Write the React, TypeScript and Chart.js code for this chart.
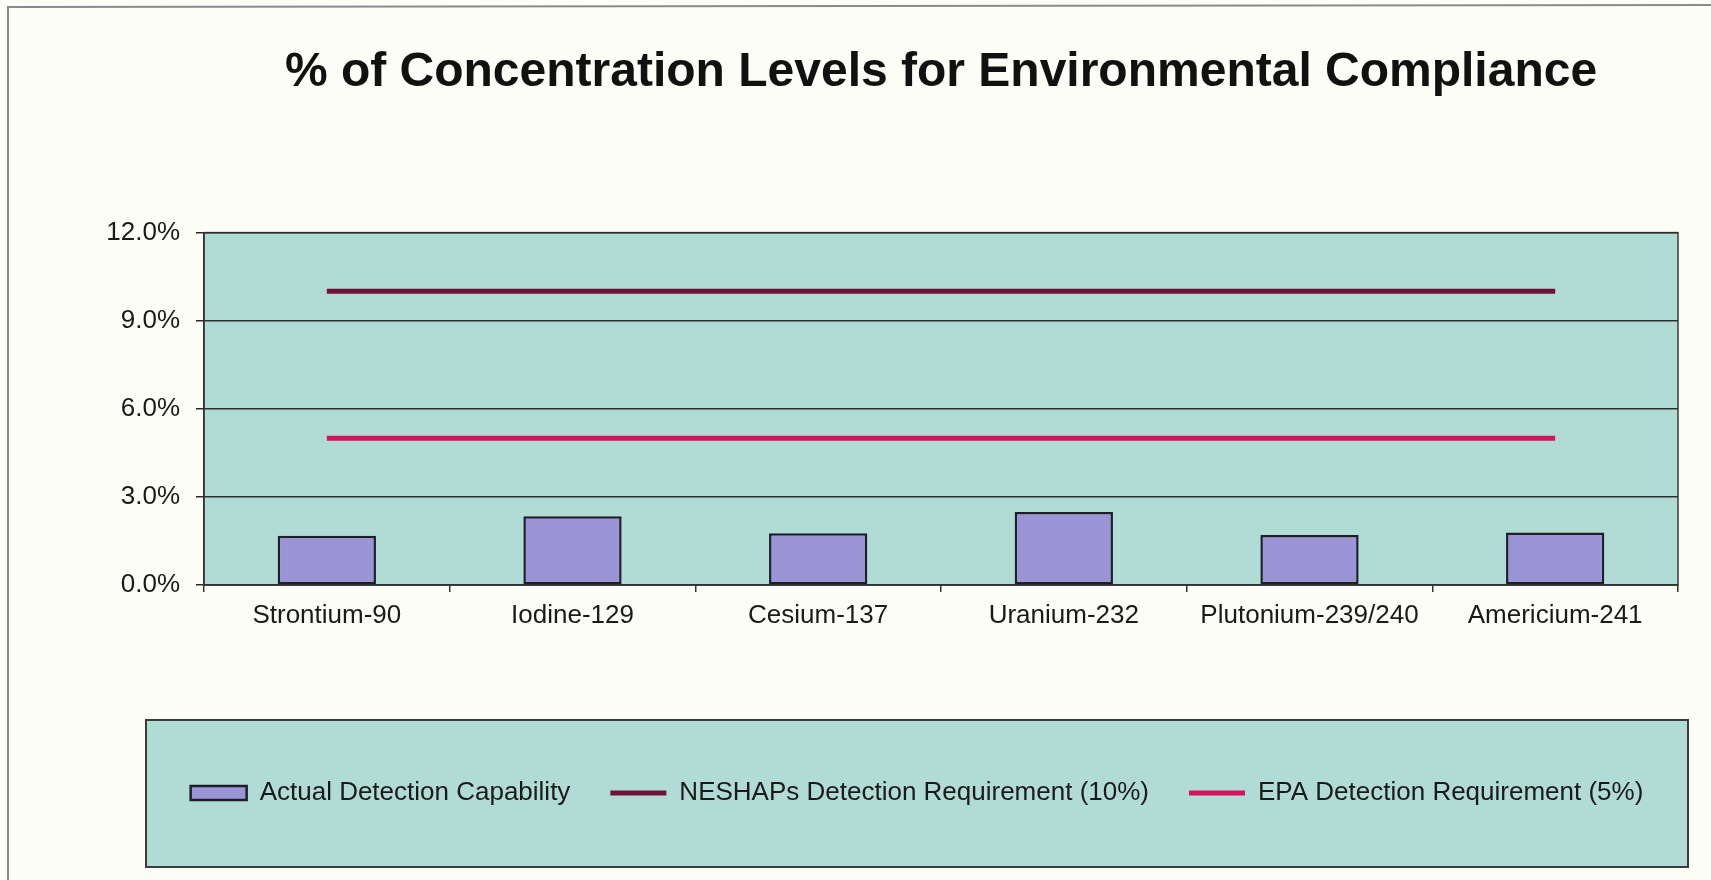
import React, { useEffect, useRef } from 'react';
import { Chart, registerables } from 'chart.js';

Chart.register(...registerables);

const categories = ['Strontium-90', 'Iodine-129', 'Cesium-137', 'Uranium-232', 'Plutonium-239/240', 'Americium-241'];
const actualDetection = [1.68, 2.34, 1.76, 2.49, 1.70, 1.79];
const neshapsRequirement = [10, 10, 10, 10, 10, 10];
const epaRequirement = [5, 5, 5, 5, 5, 5];
const seriesNames = ['Actual Detection Capability', 'NESHAPs Detection Requirement (10%)', 'EPA Detection Requirement (5%)'];
const yMax = 12;
const yStep = 3;
const titleText = '% of Concentration Levels for Environmental Compliance';

const FONT = '"Liberation Sans", Arial, sans-serif';
const PLOT_BG = '#b1dcd5';
const PAGE_BG = '#fdfdf7';
const BAR_FILL = '#9b94d6';
const NESHAPS_COLOR = '#701238';
const EPA_COLOR = '#d6145c';

export default function App() {
  const ref = useRef<HTMLCanvasElement>(null);

  useEffect(() => {
    document.body.style.margin = '0';
    const canvas = ref.current;
    if (!canvas) return;

    const framePlugin = {
      id: 'framePlugin',
      afterLayout(chart: any) {
        // widen the legend box so that it spans the framed legend panel
        const lg = chart.legend;
        const ca = chart.chartArea;
        if (lg && ca) {
          lg.left = ca.left - 58;
          lg.right = ca.right + 10;
          lg.width = lg.right - lg.left;
        }
      },
      beforeDraw(chart: any) {
        const { ctx, chartArea, width, height } = chart;
        ctx.save();
        ctx.fillStyle = PAGE_BG;
        ctx.fillRect(0, 0, width, height);
        // outer frame (left/top)
        ctx.strokeStyle = '#8a8a8a';
        ctx.lineWidth = 2;
        ctx.beginPath();
        ctx.moveTo(8, height);
        ctx.lineTo(8, 7);
        ctx.lineTo(width, 5);
        ctx.stroke();
        // plot area
        ctx.fillStyle = PLOT_BG;
        ctx.fillRect(chartArea.left, chartArea.top, chartArea.right - chartArea.left, chartArea.bottom - chartArea.top);
        ctx.strokeStyle = '#3a3a3a';
        ctx.lineWidth = 1.5;
        ctx.strokeRect(chartArea.left, chartArea.top, chartArea.right - chartArea.left, chartArea.bottom - chartArea.top);
        // legend panel
        const lg = chart.legend;
        if (lg && lg.legendHitBoxes && lg.legendHitBoxes.length) {
          const hb = lg.legendHitBoxes[0];
          const cy = hb.top + hb.height / 2;
          const top = cy - 73;
          const bottom = cy + 74;
          ctx.fillStyle = PLOT_BG;
          ctx.fillRect(lg.left, top, lg.right - lg.left, bottom - top);
          ctx.strokeStyle = '#3c3c3c';
          ctx.lineWidth = 2;
          ctx.strokeRect(lg.left, top, lg.right - lg.left, bottom - top);
        }
        ctx.restore();
      },
    };

    const chart = new Chart(canvas, {
      type: 'bar',
      data: {
        labels: categories,
        datasets: [
          {
            type: 'bar',
            label: seriesNames[0],
            data: actualDetection,
            backgroundColor: BAR_FILL,
            borderColor: '#1f1f2a',
            borderWidth: 2.5,
            borderSkipped: false,
            barPercentage: 0.4,
            categoryPercentage: 1.0,
            order: 2,
          },
          {
            type: 'line',
            label: seriesNames[1],
            data: neshapsRequirement,
            borderColor: NESHAPS_COLOR,
            backgroundColor: NESHAPS_COLOR,
            borderWidth: 5,
            pointRadius: 0,
            fill: false,
            order: 1,
          },
          {
            type: 'line',
            label: seriesNames[2],
            data: epaRequirement,
            borderColor: EPA_COLOR,
            backgroundColor: EPA_COLOR,
            borderWidth: 5,
            pointRadius: 0,
            fill: false,
            order: 0,
          },
        ],
      },
      options: {
        responsive: false,
        animation: false,
        layout: { padding: { top: 0, left: 100, right: 33, bottom: 64 } },
        plugins: {
          tooltip: { enabled: false },
          title: {
            display: true,
            text: titleText,
            fullSize: false,
            color: '#111111',
            font: { family: FONT, size: 48, weight: 'bold' },
            padding: { top: 44, bottom: 131 },
          },
          legend: {
            position: 'bottom',
            align: 'center',
            labels: {
              color: '#1a1a1a',
              font: { family: FONT, size: 26 },
              usePointStyle: true,
              pointStyleWidth: 56,
              boxHeight: 14,
              padding: 40,
              generateLabels: (ch: any) =>
                ch.data.datasets.map((ds: any, i: number) => {
                  const isBar = i === 0;
                  return {
                    text: ds.label,
                    datasetIndex: i,
                    pointStyle: isBar ? 'rect' : 'line',
                    fillStyle: isBar ? BAR_FILL : ds.borderColor,
                    strokeStyle: isBar ? '#1f1f2a' : ds.borderColor,
                    lineWidth: isBar ? 2.5 : 5,
                    fontColor: '#1a1a1a',
                    hidden: false,
                  };
                }),
            },
          },
        },
        scales: {
          x: {
            offset: true,
            afterFit: (scale: any) => {
              scale.height = 155;
            },
            grid: {
              offset: true,
              drawOnChartArea: false,
              drawTicks: true,
              tickLength: 7,
              color: '#333333',
              lineWidth: 1.5,
            },
            border: { display: true, color: '#333333', width: 1.5 },
            ticks: {
              color: '#1a1a1a',
              font: { family: FONT, size: 26 },
              padding: 8,
              maxRotation: 0,
              autoSkip: false,
            },
          },
          y: {
            min: 0,
            max: yMax,
            afterFit: (scale: any) => {
              scale.width = 104;
            },
            grid: {
              color: '#2c2c2c',
              lineWidth: 1.5,
              drawTicks: true,
              tickLength: 8,
            },
            border: { display: true, color: '#333333', width: 1.5 },
            ticks: {
              stepSize: yStep,
              color: '#1a1a1a',
              font: { family: FONT, size: 26 },
              padding: 16,
              callback: (v: any) => Number(v).toFixed(1) + '%',
            },
          },
        },
      },
      plugins: [framePlugin],
    });

    return () => chart.destroy();
  }, []);

  return (
    <div style={{ position: 'absolute', left: 0, top: 0, width: 1711, height: 880 }}>
      <canvas ref={ref} width={1711} height={880} style={{ display: 'block', width: 1711, height: 880 }} />
    </div>
  );
}
